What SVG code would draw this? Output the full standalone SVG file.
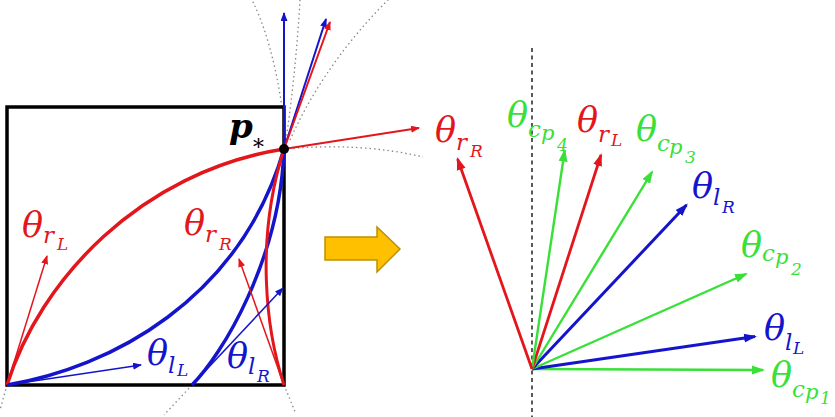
<svg xmlns="http://www.w3.org/2000/svg" width="835" height="417" viewBox="0 0 835 417">
<style>
.bg{fill:#fff}
.sq{fill:none;stroke:#000;stroke-width:3.5}
.thick{fill:none;stroke-width:3.5}
.r{stroke:#E3161C}
.b{stroke:#1414CC}
.g{stroke:#38E038}
.thin{fill:none;stroke-width:1.5}
.mid{fill:none;stroke-width:2}
.dot{fill:none;stroke:#888;stroke-width:1.3;stroke-dasharray:1.5 3}
.dash{fill:none;stroke:#000;stroke-width:1.3;stroke-dasharray:4 3.5}
text{font-family:"DejaVu Serif","Liberation Serif",serif;font-style:italic}
.th{font-size:35px}
.sb{font-size:23px}
.sp{font-size:21px}
.ss{font-size:17px}
.tr{fill:#E3161C}
.tb{fill:#1414CC}
.tg{fill:#38E038}
</style>
<defs>
<marker id="ar" markerUnits="userSpaceOnUse" markerWidth="14" markerHeight="10" refX="11" refY="5" orient="auto"><path d="M0,0.5 L13,5 L0,9.5 z" fill="#E3161C"/></marker>
<marker id="ab" markerUnits="userSpaceOnUse" markerWidth="14" markerHeight="10" refX="11" refY="5" orient="auto"><path d="M0,0.5 L13,5 L0,9.5 z" fill="#1414CC"/></marker>
<marker id="ag" markerUnits="userSpaceOnUse" markerWidth="14" markerHeight="10" refX="11" refY="5" orient="auto"><path d="M0,0.5 L13,5 L0,9.5 z" fill="#38E038"/></marker>
<marker id="sr" markerUnits="userSpaceOnUse" markerWidth="10" markerHeight="8" refX="8" refY="3.5" orient="auto"><path d="M0,0 L9,3.5 L0,7 z" fill="#E3161C"/></marker>
<marker id="sb" markerUnits="userSpaceOnUse" markerWidth="10" markerHeight="8" refX="8" refY="3.5" orient="auto"><path d="M0,0 L9,3.5 L0,7 z" fill="#1414CC"/></marker>
</defs>
<rect class="bg" x="0" y="0" width="835" height="417"/>

<g id="extensions">
<path class="dot" d="M282,107 Q272,40 252,0"/>
<path class="dot" d="M286,140 Q296,70 300,0"/>
<path class="dot" d="M290,140 Q325,62 390,-2"/>
<path class="dot" d="M284,149 Q360,142 423,157"/>
<path class="dot" d="M7,385 L0,410"/>
<path class="dot" d="M192,385 L164,415"/>
<path class="dot" d="M284,385 L296,414"/>
</g>

<g id="square">
<rect class="sq" x="7" y="107" width="277" height="278"/>
</g>

<g id="paths">
<path class="thick r" d="M7,385 C40,280 140,172 284,149"/>
<path class="thick b" d="M7,385 C110,368 240,300 284,149"/>
<path class="thick b" d="M192,385 C222,355 280,260 284,149"/>
<path class="thick r" style="stroke-width:3" d="M284,385 C266,330 255,240 284,149"/>
</g>

<g id="connectors">
<line class="thin r" x1="7" y1="385" x2="47" y2="256" marker-end="url(#sr)"/>
<line class="thin b" x1="7" y1="385" x2="141" y2="365" marker-end="url(#sb)"/>
<line class="thin r" x1="284" y1="385" x2="239" y2="259" marker-end="url(#sr)"/>
<line class="thin b" x1="192" y1="385" x2="283" y2="288" marker-end="url(#sb)"/>
<line class="mid b" x1="284" y1="149" x2="284" y2="13" marker-end="url(#sb)"/>
<line class="mid b" x1="284" y1="149" x2="326" y2="19" marker-end="url(#sb)"/>
<line class="mid r" x1="284" y1="149" x2="330" y2="22" marker-end="url(#sr)"/>
<line class="mid r" x1="284" y1="149" x2="419" y2="128" marker-end="url(#sr)"/>
</g>

<g id="pstar">
<circle cx="284" cy="149" r="5" fill="#000"/>
<text x="229" y="138" style="font-size:34px;font-weight:bold">p</text>
<text x="251" y="150" style="font-size:22px;font-style:normal">∗</text>
</g>

<g id="left-labels">
<text class="tr"><tspan class="th" x="22" y="237">θ</tspan><tspan class="sb" x="43" y="243">r</tspan><tspan class="ss" x="57" y="250">L</tspan></text>
<text class="tr"><tspan class="th" x="184" y="235">θ</tspan><tspan class="sb" x="205" y="242">r</tspan><tspan class="ss" x="219" y="250">R</tspan></text>
<text class="tb"><tspan class="th" x="147" y="365">θ</tspan><tspan class="sb" x="168" y="373">l</tspan><tspan class="ss" x="177" y="376">L</tspan></text>
<text class="tb"><tspan class="th" x="227" y="368">θ</tspan><tspan class="sb" x="248" y="374">l</tspan><tspan class="ss" x="257" y="382">R</tspan></text>
</g>

<g id="transition-arrow">
<path d="M325,237 L377,237 L377,227 L400,249 L377,272 L377,260 L325,260 z" fill="#FFC000" stroke="#BF9000" stroke-width="1.5"/>
</g>

<g id="axis">
<line class="dash" x1="532" y1="48" x2="532" y2="417"/>
</g>

<g id="angle-vectors">
<line class="g" style="stroke-width:2.4" x1="532" y1="369" x2="763" y2="370" marker-end="url(#ag)"/>
<line class="b" style="stroke-width:3" x1="532" y1="369" x2="755" y2="336.5" marker-end="url(#ab)"/>
<line class="g" style="stroke-width:2.4" x1="532" y1="369" x2="746" y2="274" marker-end="url(#ag)"/>
<line class="b" style="stroke-width:3" x1="532" y1="369" x2="686.5" y2="205" marker-end="url(#ab)"/>
<line class="g" style="stroke-width:2.4" x1="532" y1="369" x2="652" y2="172" marker-end="url(#ag)"/>
<line class="r" style="stroke-width:2.8" x1="532" y1="369" x2="601" y2="155" marker-end="url(#ar)"/>
<line class="g" style="stroke-width:2.4" x1="532" y1="369" x2="564.7" y2="150.5" marker-end="url(#ag)"/>
<line class="r" style="stroke-width:2.8" x1="532" y1="369" x2="457.6" y2="159" marker-end="url(#ar)"/>
</g>

<g id="right-labels">
<text class="tr"><tspan class="th" x="435" y="142">θ</tspan><tspan class="sb" x="456" y="150">r</tspan><tspan class="ss" x="470" y="157">R</tspan></text>
<text class="tg"><tspan class="th" x="507" y="127">θ</tspan><tspan class="sb" x="528" y="137">c</tspan><tspan class="sp" x="541" y="140">p</tspan><tspan class="ss" x="557" y="151">4</tspan></text>
<text class="tr"><tspan class="th" x="577" y="132">θ</tspan><tspan class="sb" x="598" y="142">r</tspan><tspan class="ss" x="611" y="146">L</tspan></text>
<text class="tg"><tspan class="th" x="636" y="141">θ</tspan><tspan class="sb" x="657" y="151">c</tspan><tspan class="sp" x="669" y="154">p</tspan><tspan class="ss" x="685" y="163">3</tspan></text>
<text class="tb"><tspan class="th" x="692" y="198">θ</tspan><tspan class="sb" x="713" y="205">l</tspan><tspan class="ss" x="722" y="213">R</tspan></text>
<text class="tg"><tspan class="th" x="741" y="257">θ</tspan><tspan class="sb" x="762" y="261">c</tspan><tspan class="sp" x="775" y="264">p</tspan><tspan class="ss" x="791" y="275">2</tspan></text>
<text class="tb"><tspan class="th" x="764" y="340">θ</tspan><tspan class="sb" x="785" y="350">l</tspan><tspan class="ss" x="793" y="354">L</tspan></text>
<text class="tg"><tspan class="th" x="771" y="387">θ</tspan><tspan class="sb" x="792" y="397">c</tspan><tspan class="sp" x="805" y="399">p</tspan><tspan class="ss" x="820" y="404">1</tspan></text>
</g>
</svg>
